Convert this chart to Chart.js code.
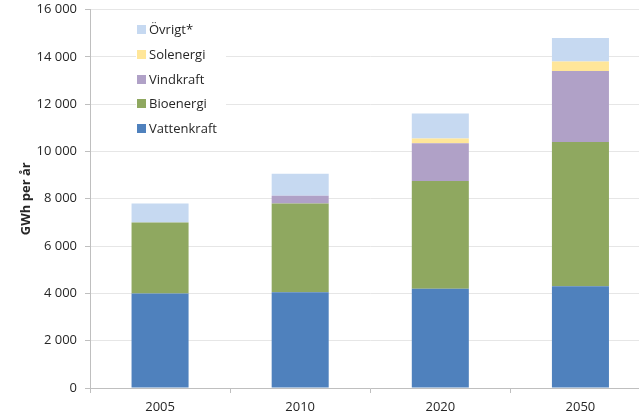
<!DOCTYPE html>
<html>
<head>
<meta charset="utf-8">
<script src="https://cdn.jsdelivr.net/npm/chart.js@4/dist/chart.umd.min.js"></script>
<style>
  html, body { margin: 0; padding: 0; background: #fff; overflow: hidden; }
  #wrap { position: relative; width: 652px; height: 413px; }
</style>
</head>
<body>
<div id="wrap"><canvas id="c"></canvas></div>
<script>
const categories = ['2005', '2010', '2020', '2050'];
const seriesNames = ['Vattenkraft', 'Bioenergi', 'Vindkraft', 'Solenergi', 'Övrigt*'];
const vattenkraft = [4000, 4050, 4200, 4300];
const bioenergi   = [3000, 3750, 4550, 6100];
const vindkraft   = [0, 330, 1600, 3000];
const solenergi   = [0, 0, 200, 400];
const ovrigt      = [800, 930, 1050, 1000];
const yTicks = [0, 2000, 4000, 6000, 8000, 10000, 12000, 14000, 16000];
const yTitle = 'GWh per år';

const colors = ['#4F81BD', '#8FA860', '#B0A1C7', '#FFE699', '#C6D9F1'];
const values = [vattenkraft, bioenergi, vindkraft, solenergi, ovrigt];

const FONT = "'Open Sans', 'Liberation Sans', sans-serif";

const legendPlugin = {
  id: 'insideLegend',
  afterDraw(chart) {
    const ctx = chart.ctx;
    const ds = chart.data.datasets;
    ctx.save();
    ctx.fillStyle = '#ffffff';
    ctx.fillRect(136, 15, 90, 128);
    ctx.font = '13px ' + FONT;
    ctx.textBaseline = 'middle';
    ctx.textAlign = 'left';
    const rows = [29.3, 54.3, 79.3, 103.8, 128.3];
    for (let i = 0; i < ds.length; i++) {
      const d = ds[ds.length - 1 - i];
      const y = rows[i];
      ctx.fillStyle = d.backgroundColor;
      ctx.fillRect(137, Math.round(y - 4.5), 9, 9);
      ctx.fillStyle = '#262626';
      ctx.fillText(d.label, 149, y + 0.5);
    }
    ctx.restore();
  }
};

new Chart(document.getElementById('c'), {
  type: 'bar',
  data: {
    labels: categories,
    datasets: seriesNames.map((n, i) => ({
      label: n,
      data: values[i],
      backgroundColor: colors[i],
      borderWidth: 0,
      barPercentage: 0.407,
      categoryPercentage: 1.0
    }))
  },
  options: {
    responsive: true,
    maintainAspectRatio: false,
    animation: false,
    layout: { padding: { top: 9.5, right: 1.5, bottom: 0, left: 0 } },
    plugins: { legend: { display: false }, tooltip: { enabled: false } },
    scales: {
      x: {
        stacked: true,
        grid: { display: true, drawOnChartArea: false, drawTicks: true, tickLength: 5, tickColor: '#BFBFBF', offset: true },
        border: { display: true, color: '#BFBFBF' },
        ticks: { color: '#262626', font: { family: FONT, size: 13 }, padding: 6, maxRotation: 0 },
        afterFit(scale) { scale.height = 25; scale.paddingLeft = 0; scale.paddingRight = 0; }
      },
      y: {
        stacked: true,
        min: 0,
        max: 16000,
        afterBuildTicks(scale) { scale.ticks = yTicks.map(v => ({ value: v })); },
        grid: { color: '#E6E6E6', tickColor: '#BFBFBF', tickLength: 5 },
        border: { display: true, color: '#BFBFBF' },
        ticks: {
          color: '#262626',
          font: { family: FONT, size: 13 },
          padding: 8,
          callback: v => String(v).replace(/\B(?=(\d{3})+(?!\d))/g, ' ')
        },
        title: {
          display: true,
          text: yTitle,
          color: '#262626',
          font: { family: FONT, size: 13, weight: 'bold' },
          padding: { top: 18, bottom: 0 }
        },
        afterFit(scale) { scale.width = 90; scale.paddingTop = 0; scale.paddingBottom = 0; }
      }
    }
  },
  plugins: [legendPlugin]
});
</script>
</body>
</html>
